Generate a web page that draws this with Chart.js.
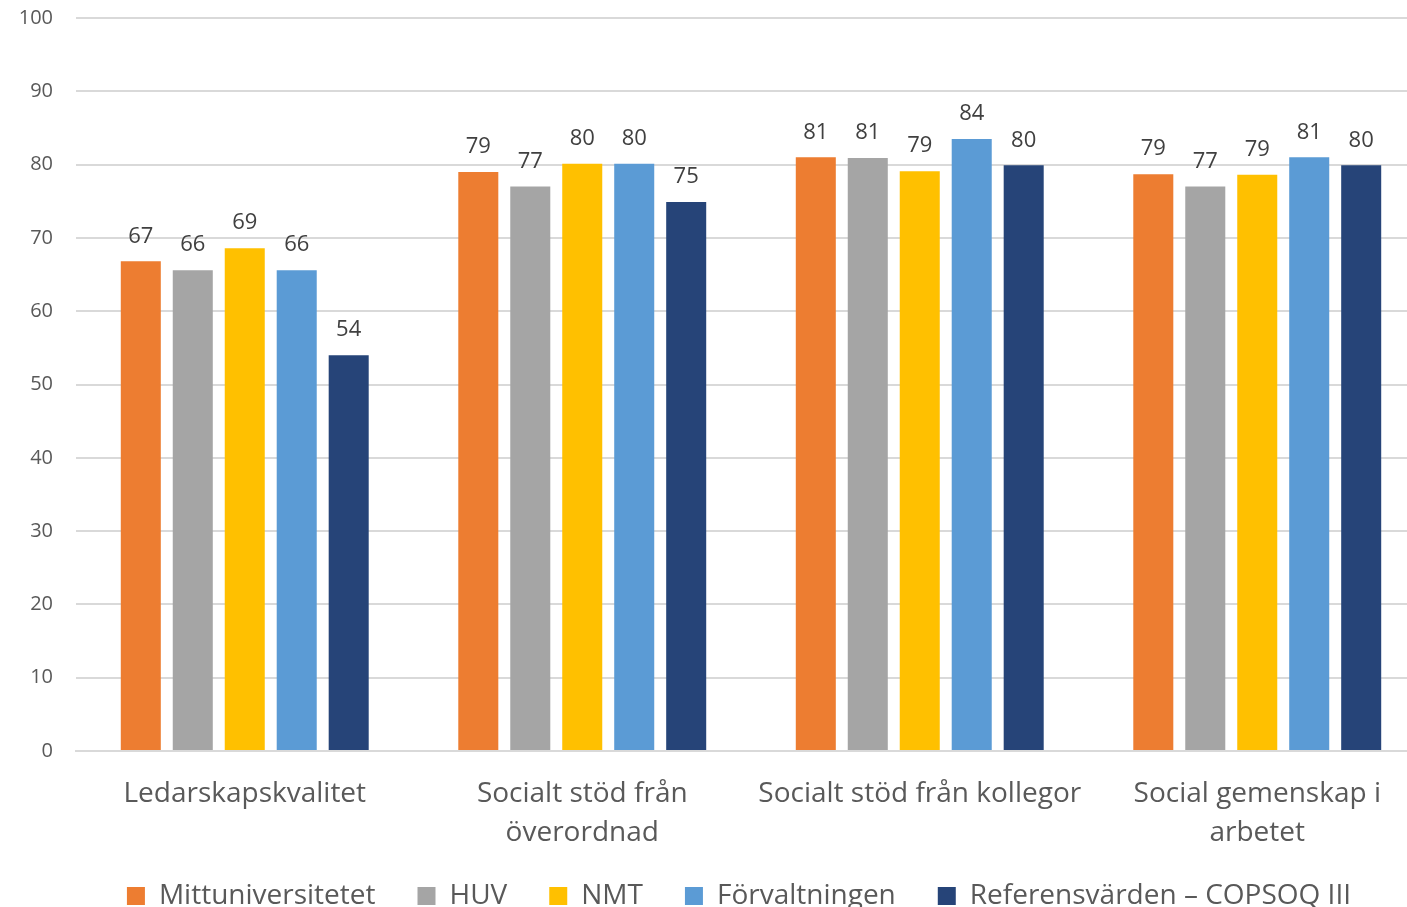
<!DOCTYPE html>
<html>
<head>
<meta charset="utf-8">
<script src="https://cdn.jsdelivr.net/npm/chart.js@4.4.1/dist/chart.umd.min.js"></script>
<style>
  html, body { margin: 0; padding: 0; background: #fff; overflow: hidden; }
  #wrap { width: 1426px; height: 931px; position: relative; }
</style>
</head>
<body>
<div id="wrap"><canvas id="chart"></canvas></div>
<script>
// kategorier och serier
const categories = [
    'Ledarskapskvalitet',
    ['Socialt stöd från', 'överordnad'],
    'Socialt stöd från kollegor',
    ['Social gemenskap i', 'arbetet']
];
const seriesNames = ['Mittuniversitetet', 'HUV', 'NMT', 'Förvaltningen', 'Referensvärden – COPSOQ III'];
const seriesColors = ['#ED7D31', '#A5A5A5', '#FFC000', '#5B9BD5', '#264478'];

const mittuniversitetet = [66.8, 79.0, 81.0, 78.7];
const huv = [65.6, 77.0, 80.9, 77.0];
const nmt = [68.6, 80.1, 79.1, 78.6];
const forvaltningen = [65.6, 80.1, 83.5, 81.0];
const referens = [54.0, 74.9, 79.9, 79.9];

const yTicks = [0, 10, 20, 30, 40, 50, 60, 70, 80, 90, 100];

const fontFamily = '"Open Sans", "Noto Sans", sans-serif';
const textColor = '#595959';

const valueLabels = {
    id: 'valueLabels',
    afterLayout(chart) {
        // flytta förklaringen lite åt höger och uppåt
        chart.legend.left += 26;
        chart.legend.right += 26;
        chart.legend.top -= 11;
        chart.legend.bottom -= 11;
    },
    // ritar värdena ovanför staplarna
    afterDatasetsDraw(chart) {
        const ctx = chart.ctx;
        ctx.save();
        ctx.font = '22px ' + fontFamily;
        ctx.fillStyle = '#404040';
        ctx.textAlign = 'center';
        ctx.textBaseline = 'bottom';
        chart.data.datasets.forEach((ds, i) => {
            chart.getDatasetMeta(i).data.forEach((bar, j) => {
                ctx.fillText(Math.round(ds.data[j]), bar.x, bar.y - 14);
            });
        });
        ctx.restore();
    }
};

const allSeries = [mittuniversitetet, huv, nmt, forvaltningen, referens];

const datasets = allSeries.map((values, i) => ({
    label: seriesNames[i],
    data: values,
    backgroundColor: seriesColors[i],
    borderWidth: 0,
    categoryPercentage: 0.77,
    barPercentage: 0.77
}));

new Chart(document.getElementById('chart'), {
    type: 'bar',
    data: { labels: categories, datasets: datasets },
    plugins: [valueLabels],
    options: {
        responsive: true,
        maintainAspectRatio: false,
        animation: false,
        layout: { padding: { top: 18, right: 0, left: 0, bottom: 0 } },
        plugins: {
            legend: {
                position: 'bottom',
                labels: {
                    boxWidth: 18,
                    boxHeight: 18,
                    padding: 42,
                    color: textColor,
                    font: { family: fontFamily, size: 28 }
                }
            },
            tooltip: { enabled: false }
        },
        scales: {
            x: {
                grid: { display: false },
                border: { color: '#d9d9d9', width: 2 },
                ticks: {
                    color: textColor,
                    font: { family: fontFamily, size: 28, lineHeight: 1.4 },
                    padding: 15,
                    maxRotation: 0
                },
                afterFit(scale) { scale.height = 100; }
            },
            y: {
                min: 0,
                max: 100,
                afterBuildTicks(scale) { scale.ticks = yTicks.map(v => ({ value: v })); },
                grid: { color: '#d9d9d9', lineWidth: 2, drawTicks: false },
                border: { display: false },
                ticks: {
                    color: textColor,
                    font: { family: fontFamily, size: 20 },
                    padding: 23
                },
                afterFit(scale) {
                    scale.width = 76;
                    scale.paddingTop = 0;
                    scale.paddingBottom = 0;
                }
            }
        }
    }
});
</script>
</body>
</html>
